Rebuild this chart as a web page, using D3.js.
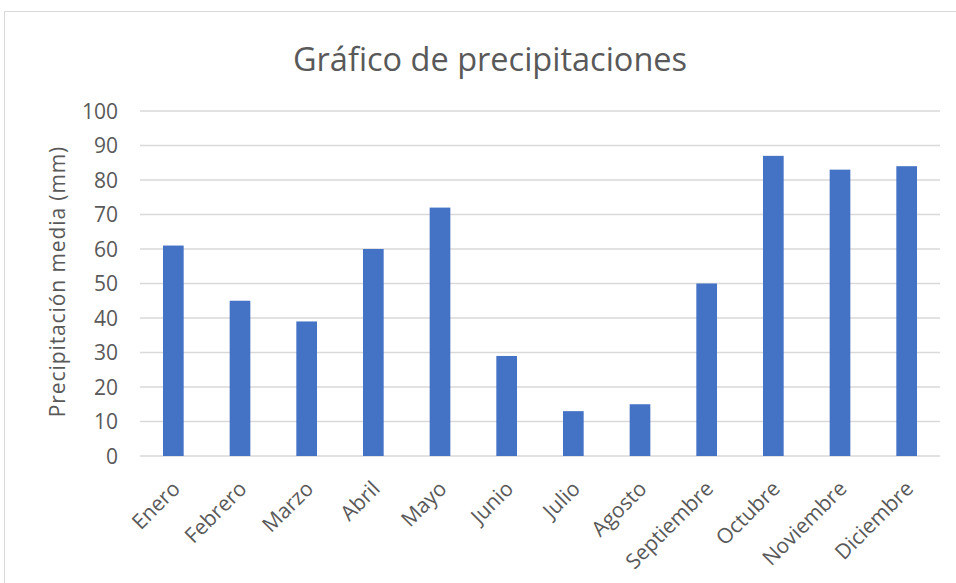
<!DOCTYPE html>
<html>
<head>
<meta charset="utf-8">
<script src="https://cdn.jsdelivr.net/npm/d3@7"></script>
<style>
  html, body { margin: 0; padding: 0; background: #fff; }
  svg text { font-family: "Open Sans", "Noto Sans", sans-serif; fill: #595959; }
</style>
</head>
<body>
<svg id="chart" width="956" height="583"></svg>
<script>
const months = ["Enero", "Febrero", "Marzo", "Abril", "Mayo", "Junio",
                "Julio", "Agosto", "Septiembre", "Octubre", "Noviembre", "Diciembre"];
const rainfall = [61, 45, 39, 60, 72, 29, 13, 15, 50, 87, 83, 84];
const yTicks = [0, 10, 20, 30, 40, 50, 60, 70, 80, 90, 100];
const chartTitle = "Gráfico de precipitaciones";
const yTitle = "Precipitación media (mm)";

const svg = d3.select("#chart");
const W = 956, H = 583;
const plot = { left: 140, right: 940, top: 111, bottom: 456 };

// outer chart frame
svg.append("rect")
  .attr("x", 4.5).attr("y", 11.5)
  .attr("width", W + 10).attr("height", H + 10)
  .attr("fill", "#fff").attr("stroke", "#d9d9d9").attr("stroke-width", 1);

const x = d3.scaleBand().domain(months).range([plot.left, plot.right]).paddingInner(0.69).paddingOuter(0.345);
const y = d3.scaleLinear().domain([0, 100]).range([plot.bottom, plot.top]);

// horizontal gridlines
svg.append("g").selectAll("line").data(yTicks).join("line")
  .attr("x1", plot.left).attr("x2", plot.right)
  .attr("y1", d => y(d)).attr("y2", d => y(d))
  .attr("stroke", "#d9d9d9").attr("stroke-width", 1.3);

// y axis labels
const yAxis = svg.append("g").attr("transform", `translate(${plot.left},0)`)
  .call(d3.axisLeft(y).tickValues(yTicks).tickSize(0).tickPadding(22));
yAxis.select(".domain").remove();
yAxis.selectAll("text").style("font-size", "21px").attr("fill", "#595959")
  .style("font-family", "'Open Sans', sans-serif").attr("dy", "0.35em");

// bars
svg.append("g").selectAll("rect").data(months).join("rect")
  .attr("x", d => x(d))
  .attr("width", x.bandwidth())
  .attr("y", (d, i) => y(rainfall[i]))
  .attr("height", (d, i) => y(0) - y(rainfall[i]))
  .attr("fill", "#4472c4");

// x axis labels, rotated
const xAxis = svg.append("g").attr("transform", `translate(0,${plot.bottom})`)
  .call(d3.axisBottom(x).tickSize(0).tickPadding(0));
xAxis.select(".domain").remove();
xAxis.selectAll("text")
  .style("font-size", "21px").attr("fill", "#595959")
  .style("font-family", "'Open Sans', sans-serif")
  .attr("text-anchor", "end")
  .attr("dy", "0")
  .attr("transform", "translate(8,34) rotate(-45)");

// title
svg.append("text")
  .attr("x", 490).attr("y", 71)
  .attr("text-anchor", "middle")
  .style("font-size", "32.5px")
  .text(chartTitle);

// y axis title
svg.append("text")
  .attr("transform", `translate(65,${(143 + 420) / 2}) rotate(-90)`)
  .attr("text-anchor", "middle")
  .style("font-size", "21px")
  .style("letter-spacing", "0.9px")
  .text(yTitle);
</script>
</body>
</html>
